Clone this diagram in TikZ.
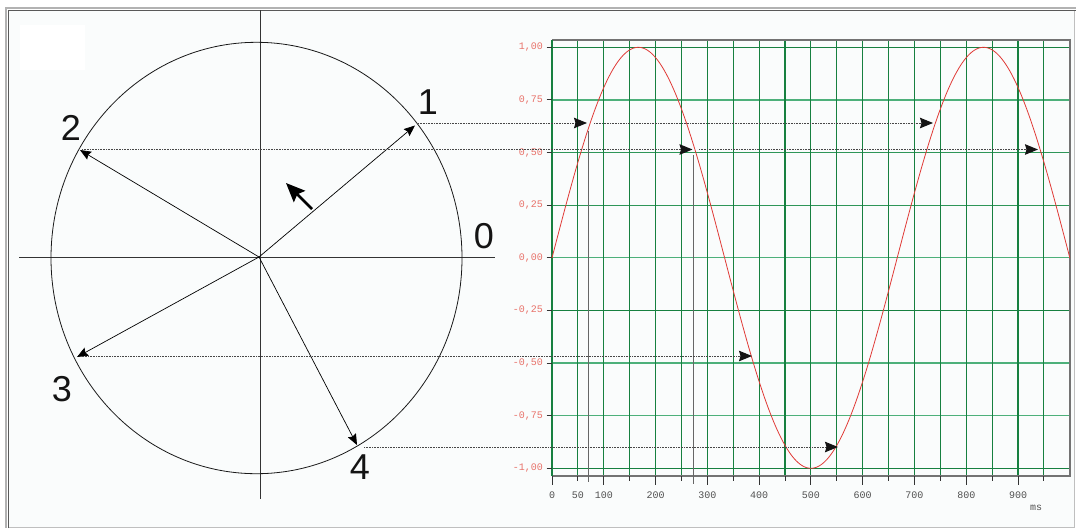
\documentclass[tikz,border=0pt]{standalone}
\usepackage{fontspec}
\setmainfont{Liberation Sans}
\newfontfamily\monof{Liberation Mono}
\usetikzlibrary{arrows.meta}
\definecolor{gridD}{HTML}{178040}
\definecolor{gridM}{HTML}{2E9658}
\definecolor{gridL}{HTML}{4DB07A}
\definecolor{curveR}{HTML}{E03A36}
\definecolor{labR}{HTML}{E8726A}
\definecolor{labG}{HTML}{505050}
\definecolor{bgc}{HTML}{FAFCFC}
\begin{document}
\begin{tikzpicture}[x=1pt,y=-1pt,
  every node/.style={inner sep=0pt},
  tipA/.style={-{Stealth[length=11pt,width=9pt,inset=1.5pt]}},
  radiusline/.style={tipA, line width=0.7pt, draw=black},
  proj/.style={line width=1pt, draw=black!72, dash pattern=on 1pt off 0.6pt},
  projtip/.style={proj, -{Stealth[length=13pt,width=10.5pt,inset=1.5pt,color=black!92]}},
  axisline/.style={line width=0.8pt, draw=black!80},
  bigdigit/.style={font=\fontsize{36}{36}\selectfont, text=black!92},
  gridv/.style={line width=1.1pt, draw=gridD},
  ylab/.style={anchor=east, font=\monof\fontsize{10}{10}\selectfont, text=labR},
  xlab/.style={anchor=center, font=\monof\fontsize{10}{10}\selectfont, text=labG},
  frameline/.style={line width=1.5pt, draw=black!55},
  tickline/.style={line width=1pt, draw=black!80},
  dropline/.style={line width=1.2pt, draw=black!60},
  curve/.style={line width=0.8pt, draw=curveR}
]
\useasboundingbox (0,0) rectangle (1076,528);
% background and frame
\fill[white] (0,0) rectangle (1076,528);
\fill[bgc] (8,10) rectangle (1074,527);
\fill[white] (20,25) rectangle (85,70);
\draw[black!25, line width=1pt] (8,527) -- (1074,527) -- (1074,10);
\draw[black!30, line width=2pt] (6,528) -- (6,8) -- (1076,8);
\draw[black!65, line width=1.3pt] (8.5,528) -- (8.5,10.5) -- (1076,10.5);

% ---------------- circle part ----------------
\coordinate (O) at (259,257);
\coordinate (Hl) at (19,257);
\coordinate (Hr) at (495,257);
\coordinate (Vt) at (260,10);
\coordinate (Vb) at (260,499);
\coordinate (E) at (256.5,258);
\draw[axisline] (Hl) -- (Hr);
\draw[axisline] (Vt) -- (Vb);
\draw[line width=0.8pt, draw=black!90] (E) ellipse [x radius=205.5pt, y radius=215.7pt];

\coordinate (C1) at (415,125.5);
\coordinate (C2) at (80,150);
\coordinate (C3) at (77,357);
\coordinate (C4) at (357,445);
\draw[radiusline] (O) -- (C1);
\draw[radiusline] (O) -- (C2);
\draw[radiusline] (O) -- (C3);
\draw[radiusline] (O) -- (C4);

\coordinate (Rt) at (312,209);
\coordinate (Rh) at (286,183);
\draw[line width=2.6pt, -{Stealth[length=19pt,width=16pt,inset=3pt]}] (Rt) -- (Rh);

\node[bigdigit] (n0) at (484,236.5) {0};
\node[bigdigit] (n1) at (428,102) {1};
\node[bigdigit] (n2) at (71,128) {2};
\node[bigdigit] (n3) at (62,389) {3};
\node[bigdigit] (n4) at (360,467) {4};

% ---------------- chart part ----------------
% horizontal grid lines
\foreach \yy/\col in {47.3/gridD, 99.9/gridL, 152.55/gridM, 205.2/gridM, 257.8/gridL, 310.4/gridD, 363.05/gridL, 415.7/gridL, 468.3/gridD} {
  \coordinate (ga) at (552,\yy);
  \coordinate (gb) at (1069.8,\yy);
  \draw[line width=1.3pt, draw=\col] (ga) -- (gb);
}
% vertical grid lines
\foreach \t in {0,50,...,950} {
  \coordinate (va) at ({552+0.5178*\t},40);
  \coordinate (vb) at ({552+0.5178*\t},476);
  \draw[gridv] (va) -- (vb);
}
% frame of the chart
\coordinate (F1) at (552,40);
\coordinate (F2) at (1069.8,40);
\coordinate (F3) at (1069.8,476);
\coordinate (F4) at (552,476);
\draw[frameline] (F1) -- (F2) -- (F3) -- (F4);
\draw[line width=1.1pt, draw=gridD] (F1) -- (F4);
% ticks
\foreach \t in {0,100,...,900} {
  \coordinate (ta) at ({552+0.5178*\t},476);
  \coordinate (tb) at ({552+0.5178*\t},484.5);
  \draw[tickline] (ta) -- (tb);
}
\foreach \t in {50,150,...,950} {
  \coordinate (ta) at ({552+0.5178*\t},476);
  \coordinate (tb) at ({552+0.5178*\t},481);
  \draw[tickline] (ta) -- (tb);
}
\foreach \yy in {47.3,99.9,152.55,205.2,257.8,310.4,363.05,415.7,468.3} {
  \coordinate (ya) at (546.5,\yy);
  \coordinate (yb) at (552,\yy);
  \draw[tickline] (ya) -- (yb);
}
% y labels
\node[ylab] (y1) at (543,47.3) {1,00};
\node[ylab] (y2) at (543,99.9) {0,75};
\node[ylab] (y3) at (543,152.55) {0,50};
\node[ylab] (y4) at (543,205.2) {0,25};
\node[ylab] (y5) at (543,257.8) {0,00};
\node[ylab] (y6) at (543,310.4) {-0,25};
\node[ylab] (y7) at (543,363.05) {-0,50};
\node[ylab] (y8) at (543,415.7) {-0,75};
\node[ylab] (y9) at (543,468.3) {-1,00};
% x labels
\foreach \t in {0,50,100,200,300,400,500,600,700,800,900} {
  \node[xlab] (xl\t) at ({552+0.5178*\t},495) {\t};
}
\node[xlab] (ms) at (1036,508) {ms};

% sine curve
\draw[curve] plot[domain=0:1000, samples=300, smooth] ({552+0.5178*\x},{257.8-210.5*sin(0.54*\x)});

% drop lines
\coordinate (D1a) at (588.7,131);
\coordinate (D1b) at (588.7,482);
\coordinate (D2a) at (693.3,155);
\coordinate (D2b) at (693.3,484);
\draw[dropline] (D1a) -- (D1b);
\draw[dropline] (D2a) -- (D2b);

% projection lines
\coordinate (P1s) at (418,123);
\coordinate (P1a) at (587,123);
\coordinate (P1c) at (594,123);
\coordinate (P1b) at (933,123);
\draw[projtip] (P1s) -- (P1a);
\draw[projtip] (P1c) -- (P1b);

\coordinate (P2s) at (82,149.5);
\coordinate (P2a) at (692.5,149.5);
\coordinate (P2c) at (699,149.5);
\coordinate (P2b) at (1038,149.5);
\draw[projtip] (P2s) -- (P2a);
\draw[projtip] (P2c) -- (P2b);

\coordinate (P3s) at (80,356);
\coordinate (P3a) at (752,356);
\draw[projtip] (P3s) -- (P3a);

\coordinate (P4s) at (364,447);
\coordinate (P4a) at (838,447);
\draw[projtip] (P4s) -- (P4a);
\end{tikzpicture}
\end{document}
